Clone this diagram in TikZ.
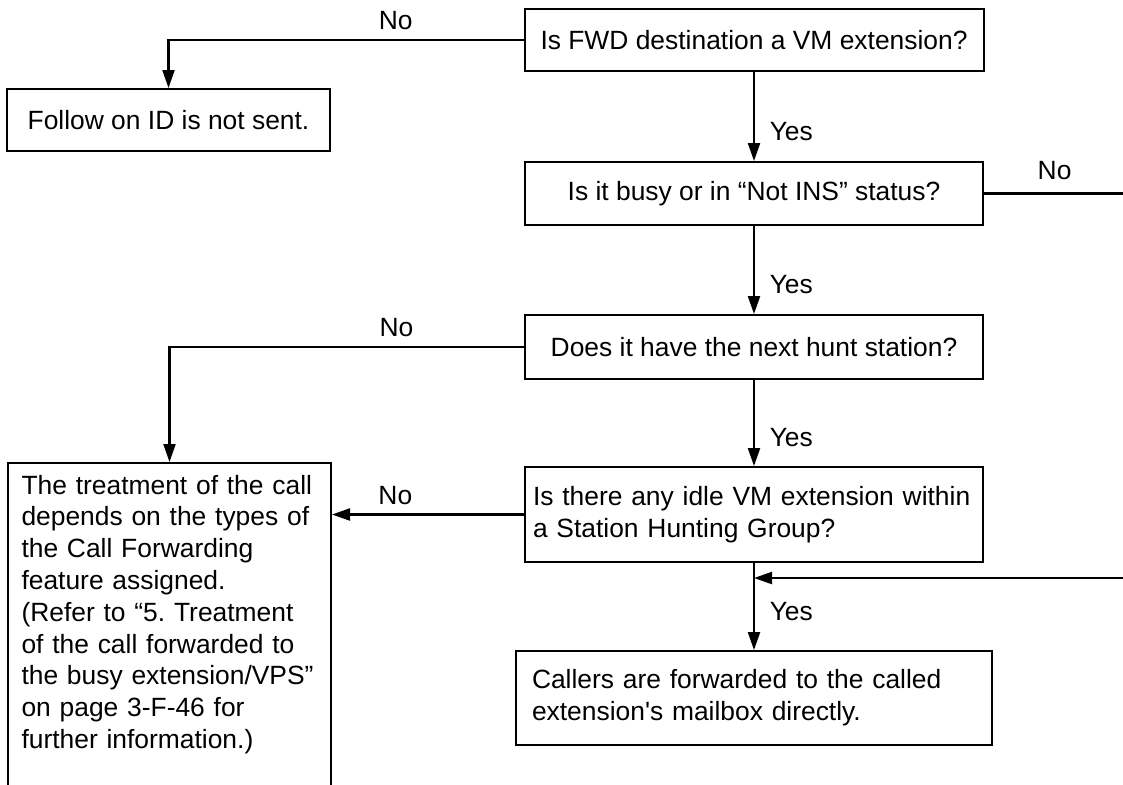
\documentclass[tikz,border=0pt]{standalone}
\usepackage{fontspec}
\setmainfont{Liberation Sans}
\usetikzlibrary{arrows.meta}

\begin{document}
\frenchspacing
\begin{tikzpicture}[x=0.5pt, y=-0.5pt, line width=1.1pt,
    box/.style={draw, rectangle, line width=1pt, inner xsep=8pt, minimum width=229pt},
    every node/.style={font=\fontsize{13.2}{15.9}\selectfont},
    >={Triangle[length=9pt,width=6pt]}]

  \useasboundingbox (0,0) rectangle (1123,784);

  \node[box, minimum height=31pt] (fwd) at (754,40) {Is FWD destination a VM extension?};
  \node[box, minimum width=161.5pt, minimum height=31pt] (follow) at (168.5,120) {Follow on ID is not sent.};
  \node[box, minimum height=31.5pt] (busy) at (754,193.5) {Is it busy or in “Not INS” status?};
  \node[box, minimum height=32pt] (hunt) at (754,347) {Does it have the next hunt station?};
  \node[box, minimum height=47.5pt, inner xsep=4pt, text width=221pt, align=left] (idle) at (754,514.5)
    {Is there any idle VM extension within\\a Station Hunting Group?};
  \node[box, minimum height=47pt, text width=222pt, align=left] (mail) at (754,698)
    {Callers are forwarded to the called\\extension\textquotesingle s mailbox directly.};
  % box runs past the bottom edge, extra depth keeps the text up
  \node[box, minimum width=161.5pt, minimum height=161.5pt, inner xsep=6.75pt, text width=148pt,
        text depth=140pt, align=left] (treat) at (169.5,624.5)
    {The treatment of the call\\depends on the types of\\the Call Forwarding\\feature assigned.\\
     (Refer to “5. Treatment\\of the call forwarded to\\the busy extension/VPS”\\on page 3-F-46 for\\
     further information.)};

  \coordinate (fb) at (754,578);

  \draw[->] (fwd.west) -| node[above=1pt, pos=0.18] {No} (follow.north);
  \draw[->] (fwd) -- node[right=4pt, pos=0.67] {Yes} (busy);
  \draw[->] (busy) -- node[right=4pt, pos=0.67] {Yes} (hunt);
  \draw[->] (hunt.west) -| node[above=1pt, pos=0.18] {No} (treat.north);
  \draw[->] (hunt) -- node[right=4pt, pos=0.67] {Yes} (idle);
  \draw[->] (idle.west) -- node[above=1pt, pos=0.67] {No} (idle.west -| treat.east);
  \draw[->] (idle) -- node[right=4pt, pos=0.56] {Yes} (mail);
  % loop back from the busy check, runs off the right edge
  \draw[->] (busy.east) -- node[above=3pt, pos=0.48] {No} ++(147,0) |- (fb);
\end{tikzpicture}
\end{document}
